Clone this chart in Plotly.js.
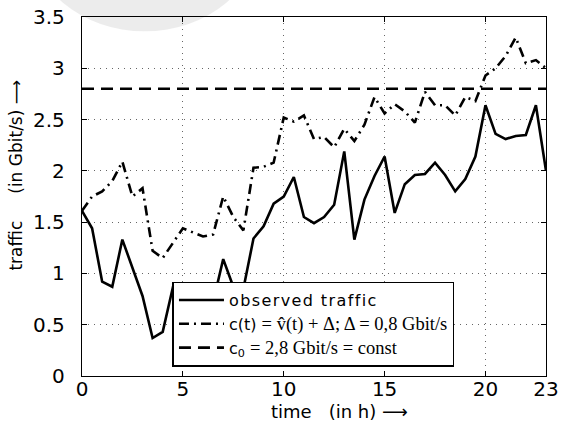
<!DOCTYPE html>
<html>
<head>
<meta charset="utf-8">
<script src="https://cdn.plot.ly/plotly-3.0.1.min.js"></script>
<style>html,body{margin:0;padding:0;background:#fff;}#chart{width:567px;height:426px;}</style>
</head>
<body>
<div id="chart"></div>
<script>
var hours = [0,0.5,1,1.5,2,2.5,3,3.5,4,4.5,5,5.5,6,6.5,7,7.5,8,8.5,9,9.5,10,10.5,11,11.5,12,12.5,13,13.5,14,14.5,15,15.5,16,16.5,17,17.5,18,18.5,19,19.5,20,20.5,21,21.5,22,22.5,23];
var observed = [1.61,1.44,0.92,0.87,1.33,1.05,0.78,0.37,0.43,0.86,0.80,0.68,0.60,0.72,1.14,0.87,0.85,1.34,1.46,1.68,1.75,1.94,1.55,1.49,1.55,1.67,2.19,1.33,1.72,1.95,2.14,1.59,1.87,1.96,1.97,2.08,1.96,1.80,1.92,2.14,2.64,2.36,2.31,2.34,2.35,2.64,2.00];
var capacity = [1.61,1.75,1.80,1.90,2.09,1.75,1.83,1.22,1.15,1.30,1.44,1.40,1.36,1.38,1.75,1.55,1.42,2.03,2.04,2.08,2.52,2.48,2.54,2.31,2.33,2.23,2.41,2.29,2.45,2.72,2.56,2.65,2.58,2.47,2.77,2.64,2.64,2.54,2.72,2.68,2.93,3.00,3.12,3.30,3.05,3.08,3.00];
var constHours = [0,23];
var constCap = [2.8,2.8];
var xTicks = [0,5,10,15,20,23];
var yTicks = [0,0.5,1,1.5,2,2.5,3,3.5];
var names = ['<span style="letter-spacing:1.4px">observed traffic</span>',
  'c(t) <span style="font-family:Liberation Serif;font-size:18.5px">= v\u0302(t) + \u0394; \u0394 = 0,8 Gbit/s</span>',
  'c<sub>0</sub> <span style="font-family:Liberation Serif;font-size:18.5px">= 2,8 Gbit/s = const</span>'];
var xTitle = '<span style="color:#ffffff">_____</span>\u00a0time\u00a0\u00a0\u00a0(in h)\u00a0\u27f6';
var yTitle = '<span style="color:#ffffff">_____</span>traffic\u00a0\u00a0\u00a0\u00a0\u00a0(in Gbit/s)\u00a0\u27f6';

var traces = [
  {x: hours, y: observed, type:'scatter', mode:'lines', name:names[0], line:{color:'#000', width:2.6}},
  {x: hours, y: capacity, type:'scatter', mode:'lines', name:names[1], line:{color:'#000', width:2.6, dash:'10px,5px,2px,5px'}},
  {x: constHours, y: constCap, type:'scatter', mode:'lines', name:names[2], line:{color:'#000', width:2.6, dash:'12px,7px'}}
];
var axisCommon = {
  showline:true, linecolor:'#000', linewidth:1.2, mirror:'allticks',
  ticks:'inside', ticklen:5, tickcolor:'#000', tickwidth:1,
  showgrid:true, gridcolor:'#666', gridwidth:1, griddash:'1px,5px',
  zeroline:false, tickfont:{family:'DejaVu Sans', size:20, color:'#000'}
};
var layout = {
  width:567, height:426,
  margin:{l:82, r:21, t:17, b:50},
  paper_bgcolor:'#fff', plot_bgcolor:'#fff',
  showlegend:true,
  legend:{x:0.195, y:0.263, xanchor:'left', yanchor:'top', bgcolor:'#fff', bordercolor:'#000', borderwidth:1.5,
    font:{family:'DejaVu Sans', size:16, color:'#000'}, tracegroupgap:0, itemwidth:45},
  xaxis: Object.assign({}, axisCommon, {range:[0,23], tickmode:'array', tickvals:xTicks, ticktext:xTicks.map(String), ticklabelstandoff:-5,
    title:{text:xTitle, font:{family:'DejaVu Sans', size:18, color:'#000'}, standoff:4}}),
  yaxis: Object.assign({}, axisCommon, {range:[0,3.5], tickmode:'array', tickvals:yTicks, ticktext:yTicks.map(String), ticklabelstandoff:12,
    title:{text:yTitle, font:{family:'DejaVu Sans', size:17, color:'#000'}, standoff:6}}),
  shapes:[{type:'circle', xref:'paper', yref:'paper', x0:-0.113, x1:0.383, y0:0.96, y1:1.5, fillcolor:'#e4e4e4', line:{width:0}, layer:'below', opacity:0.7}]
};
Plotly.newPlot('chart', traces, layout, {displayModeBar:false, staticPlot:true});
</script>
</body>
</html>
